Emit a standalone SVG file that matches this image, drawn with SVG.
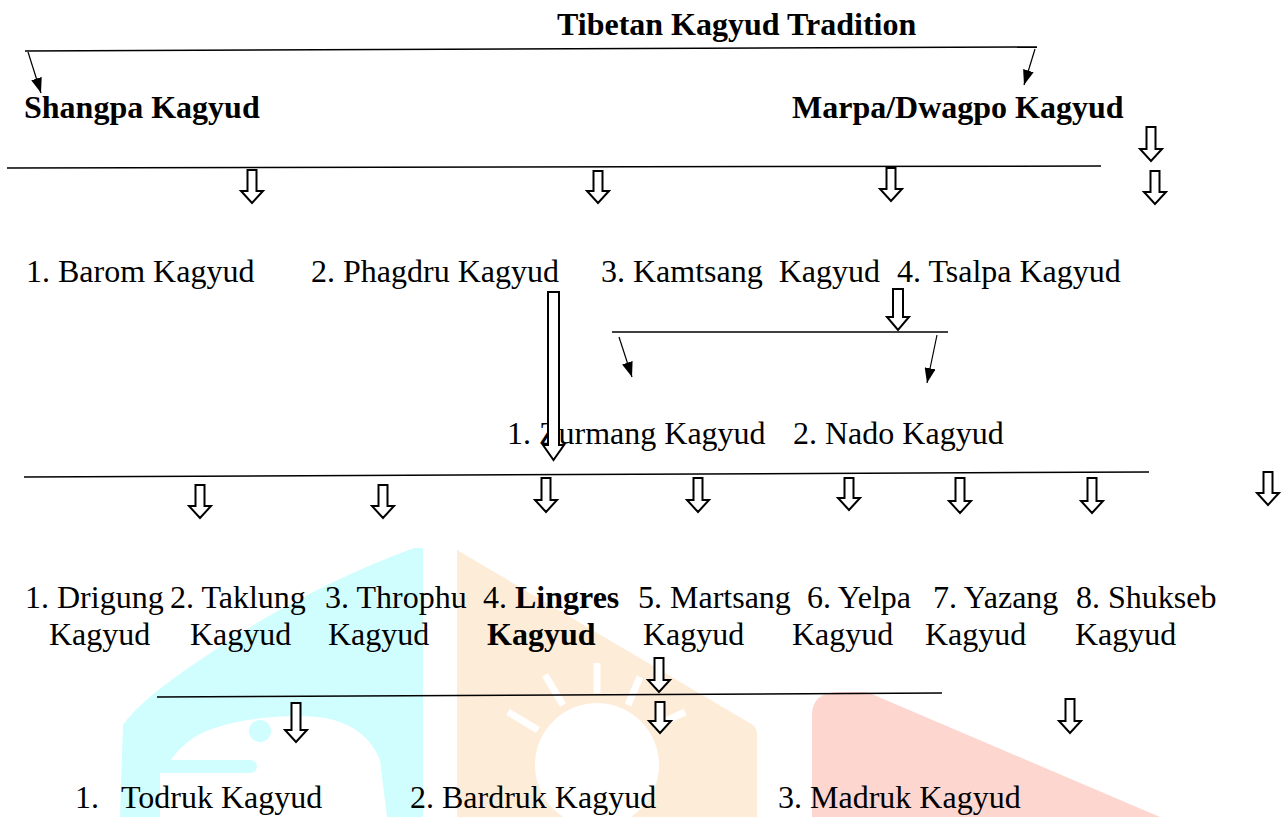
<svg xmlns="http://www.w3.org/2000/svg" width="1282" height="817" viewBox="0 0 1282 817">
<style>
text{font-family:"Liberation Serif","Times New Roman",serif;font-size:32px;fill:#000;white-space:pre}
.b{font-weight:bold}
.ln{stroke:#000;stroke-width:1.5;fill:none}
.th{stroke:#000;stroke-width:1.2;fill:none;marker-end:url(#ah)}
.ha{fill:#fff;stroke:#000;stroke-width:2;stroke-linejoin:miter}
</style>
<defs>
<marker id="ah" markerUnits="userSpaceOnUse" markerWidth="15" markerHeight="11" refX="15" refY="5.5" orient="auto">
<path d="M0,0 L15,5.5 L0,11 Z" fill="#000"/>
</marker>
</defs>
<rect width="1282" height="817" fill="#fff"/>
<g id="watermark">
<path d="M423,548 L414,548 Q300,590 200,660 Q140,700 123,725 L120,817 L423,817 Z" fill="#d0fdfd"/>
<path d="M160,817 L160,772 L173,757 Q190,735 215,728 Q250,716 300,716 Q362,716 380,760 L387,817 Z" fill="#fff"/>
<rect x="150" y="760" width="107" height="13" rx="6.5" fill="#d0fdfd"/>
<circle cx="260" cy="731" r="11" fill="#d0fdfd"/>
<path d="M457,550 L753,725 Q757,728 757,735 L757,817 L457,817 Z" fill="#fdecd8"/>
<circle cx="597" cy="765" r="62" fill="#fff"/>
<g stroke="#fff" stroke-width="7" stroke-linecap="butt">
<line x1="597" y1="663" x2="597" y2="693"/>
<line x1="545" y1="675" x2="563" y2="705"/>
<line x1="640" y1="677" x2="628" y2="705"/>
<line x1="508" y1="712" x2="538" y2="730"/>
<line x1="685" y1="712" x2="653" y2="727"/>
</g>
<path d="M812,817 L812,715 Q812,692 840,692 L867,692 L1160,817 Z" fill="#fdd6d0"/>
</g>
<g id="n-title"><text class="b" x="557" y="35">Tibetan Kagyud Tradition</text></g>
<g id="n-shangpa"><text class="b" x="24" y="118">Shangpa Kagyud</text></g>
<g id="n-marpa"><text class="b" x="792" y="118">Marpa/Dwagpo Kagyud</text></g>
<g id="n-barom"><text x="26" y="282">1. Barom Kagyud</text></g>
<g id="n-phagdru"><text x="311" y="282">2. Phagdru Kagyud</text></g>
<g id="n-kamtsang"><text x="601" y="282">3. Kamtsang  Kagyud</text></g>
<g id="n-tsalpa"><text x="897" y="282">4. Tsalpa Kagyud</text></g>
<g id="n-zurmang"><text x="507" y="444">1. Zurmang Kagyud</text></g>
<g id="n-nado"><text x="793" y="444">2. Nado Kagyud</text></g>
<g id="n-drigung"><text x="25" y="608">1. Drigung</text><text x="49" y="645">Kagyud</text></g>
<g id="n-taklung"><text x="170" y="608">2. Taklung</text><text x="190" y="645">Kagyud</text></g>
<g id="n-throphu"><text x="325" y="608">3. Throphu</text><text x="328" y="645">Kagyud</text></g>
<g id="n-lingres"><text x="483" y="608">4. <tspan class="b">Lingres</tspan></text><text class="b" x="487" y="645">Kagyud</text></g>
<g id="n-martsang"><text x="638" y="608">5. Martsang</text><text x="643" y="645">Kagyud</text></g>
<g id="n-yelpa"><text x="807" y="608">6. Yelpa</text><text x="792" y="645">Kagyud</text></g>
<g id="n-yazang"><text x="933" y="608">7. Yazang</text><text x="925" y="645">Kagyud</text></g>
<g id="n-shukseb"><text x="1076" y="608">8. Shukseb</text><text x="1075" y="645">Kagyud</text></g>
<g id="n-todruk"><text x="75" y="808">1.</text><text x="121" y="808">Todruk Kagyud</text></g>
<g id="n-bardruk"><text x="410" y="808">2. Bardruk Kagyud</text></g>
<g id="n-madruk"><text x="778" y="808">3. Madruk Kagyud</text></g>
<g id="connectors">
<line class="ln" x1="25" y1="51" x2="1037" y2="47"/>
<line class="ln" x1="7" y1="168" x2="1101" y2="166"/>
<line class="ln" x1="612" y1="332" x2="948" y2="332"/>
<line class="ln" x1="24" y1="477" x2="1149" y2="472"/>
<line class="ln" x1="157" y1="697" x2="942" y2="693"/>
<line class="th" x1="28" y1="52" x2="41" y2="93"/>
<line class="th" x1="1035" y1="49" x2="1024" y2="85"/>
<line class="th" x1="619" y1="337" x2="632" y2="377"/>
<line class="th" x1="937" y1="335" x2="927" y2="383"/>
<path class="ha" d="M1146.5,127 H1155.5 V149 H1162 L1151,161 L1140,149 H1146.5 Z"/>
<path class="ha" d="M247.5,170 H256.5 V191 H263 L252,203 L241,191 H247.5 Z"/>
<path class="ha" d="M593.5,171 H602.5 V191 H609 L598,203 L587,191 H593.5 Z"/>
<path class="ha" d="M886.5,168 H895.5 V189 H902 L891,201 L880,189 H886.5 Z"/>
<path class="ha" d="M1150.5,171 H1159.5 V192 H1166 L1155,204 L1144,192 H1150.5 Z"/>
<path class="ha" d="M893,289 H903 V317 H909 L898,330 L887,317 H893 Z"/>
<path class="ha" d="M548,292 H559 V445 H564 L553.5,460 L543,445 H548 Z"/>
<path class="ha" d="M195.5,485 H204.5 V506 H211 L200,518 L189,506 H195.5 Z"/>
<path class="ha" d="M378.5,485 H387.5 V506 H394 L383,518 L372,506 H378.5 Z"/>
<path class="ha" d="M541.5,478 H550.5 V500 H557 L546,512 L535,500 H541.5 Z"/>
<path class="ha" d="M693.5,478 H702.5 V500 H709 L698,512 L687,500 H693.5 Z"/>
<path class="ha" d="M844.5,478 H853.5 V498 H860 L849,510 L838,498 H844.5 Z"/>
<path class="ha" d="M955.5,478 H964.5 V501 H971 L960,513 L949,501 H955.5 Z"/>
<path class="ha" d="M1087.5,478 H1096.5 V501 H1103 L1092,513 L1081,501 H1087.5 Z"/>
<path class="ha" d="M1263.5,472 H1272.5 V493 H1279 L1268,505 L1257,493 H1263.5 Z"/>
<path class="ha" d="M654.5,658 H663.5 V680 H670 L659,692 L648,680 H654.5 Z"/>
<path class="ha" d="M655.5,702 H664.5 V721 H671 L660,733 L649,721 H655.5 Z"/>
<path class="ha" d="M291.5,703 H300.5 V730 H307 L296,742 L285,730 H291.5 Z"/>
<path class="ha" d="M1065.5,699 H1074.5 V721 H1081 L1070,733 L1059,721 H1065.5 Z"/>
</g>
</svg>
